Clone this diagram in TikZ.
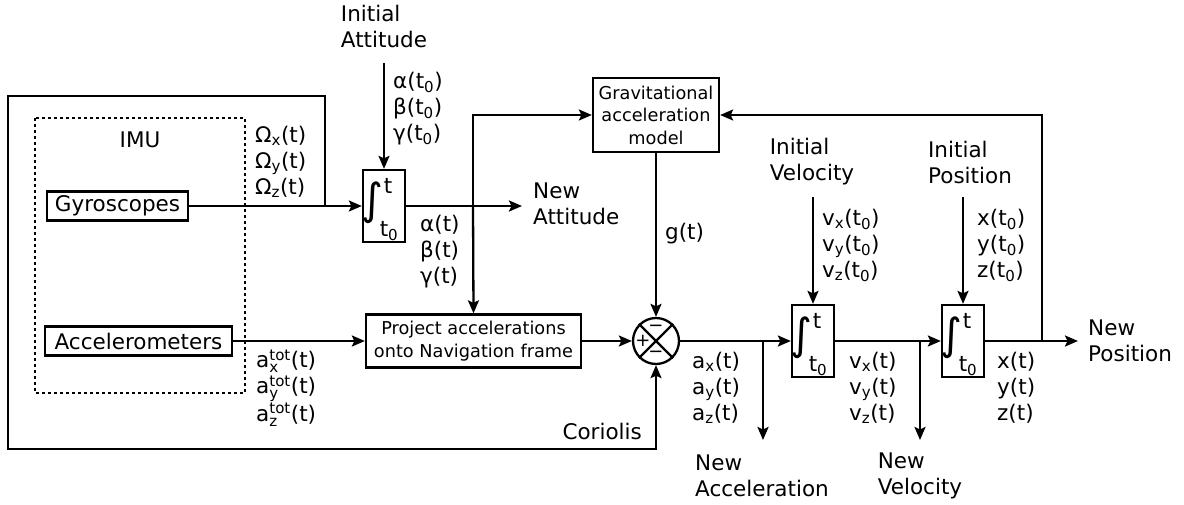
\documentclass[tikz,border=0pt]{standalone}
\usepackage{amsmath}
\usepackage{graphicx}
\usepackage{fontspec}
\setmainfont{DejaVu Sans}
\usetikzlibrary{arrows.meta}
\newcommand{\integ}[3]{%
  \node[blk, minimum width=42pt, minimum height=72pt] (#1) at (#2,#3) {};
  \node[intsym] (#1s) at ([xshift=-12pt,yshift=3pt]#1.center) {\scalebox{1.05}[1.08]{∫}};
  \node[inner sep=0pt] (#1u) at ([xshift=4pt,yshift=20pt]#1.center) {t};
  \node[inner sep=0pt] (#1l) at ([xshift=5pt,yshift=-25pt]#1.center) {t\textsubscript{0}};
}
\begin{document}
\begin{tikzpicture}[x=1pt,y=-1pt,
  every node/.style={font=\fontsize{21.5}{26}\selectfont},
  blk/.style={draw, line width=2.3pt, inner sep=2pt},
  small/.style={font=\fontsize{17.7}{22.5}\selectfont},
  intsym/.style={inner sep=0pt, font=\fontsize{40}{40}\selectfont},
  lab/.style={align=left, inner sep=0pt, anchor=west},
  arr/.style={line width=2.3pt, -{Stealth[length=13pt,width=11pt,inset=2.5pt]}},
  ln/.style={line width=2.3pt},
  sign/.style={inner sep=0pt, font=\fontsize{18}{18}\selectfont}]
\useasboundingbox (0,0) rectangle (1184,504);

% IMU
\draw[line width=1.8pt, dash pattern=on 3pt off 3pt] (35,118) rectangle (245,393);
\node (imu) at (140,140) {IMU};
\node[blk, minimum width=141pt, minimum height=29pt] (gyro) at (117.5,206) {Gyroscopes};
\node[blk, minimum width=187pt, minimum height=29pt] (acc) at (138.5,341) {Accelerometers};

% blocks
\integ{int1}{384}{206}
\integ{int2}{813}{341}
\integ{int3}{963}{341}
\node[blk, small, align=center, minimum width=126pt, minimum height=74pt] (grav) at (656,115) {Gravitational\\acceleration\\model};
\node[blk, small, align=center, minimum width=215pt, minimum height=53pt] (proj) at (473.5,341) {Project accelerations\\onto Navigation frame};
\node[draw, circle, line width=2.3pt, minimum size=46pt, inner sep=0pt] (sum) at (656,341) {};
\draw[ln] (sum.north east) -- (sum.south west);
\draw[ln] (sum.north west) -- (sum.south east);
\node[sign] (splus) at ([xshift=-13pt]sum.center) {+};
\node[sign] (smin1) at ([yshift=13pt]sum.center) {−};
\node[sign] (smin2) at ([yshift=-13pt]sum.center) {−};

% coordinates
\coordinate (jg) at (325,206);
\coordinate (attin) at (384,63);
\coordinate (attout) at (522,206);
\coordinate (ja) at (473,206);
\coordinate (j1) at (763,341);
\coordinate (newacc) at (763,440);
\coordinate (j2) at (920,341);
\coordinate (newvel) at (920,440);
\coordinate (j3) at (1042,341);
\coordinate (newpos) at (1078,341);
\coordinate (velin) at (813,197);
\coordinate (posin) at (963,197);

% connectors
\draw[arr] (gyro.east) -- (int1.west);
\draw[arr] (jg) |- (8,96) -- (8,449) -| (sum.south);
\draw[arr] (attin) -- (int1.north);
\draw[arr] (int1.east) -- (attout);
\draw[arr] (ja) -- (proj.north);
\draw[arr] (ja) |- (grav.west);
\draw[arr] (acc.east) -- (proj.west);
\draw[arr] (proj.east) -- (sum.west);
\draw[arr] (grav.south) -- (sum.north);
\draw[arr] (sum.east) -- (int2.west);
\draw[arr] (j1) -- (newacc);
\draw[arr] (int2.east) -- (int3.west);
\draw[arr] (j2) -- (newvel);
\draw[arr] (int3.east) -- (newpos);
\draw[arr] (j3) |- (grav.east);
\draw[arr] (velin) -- (int2.north);
\draw[arr] (posin) -- (int3.north);

% texts
\node[align=left, inner sep=0pt] (tatt) at (384,26) {Initial\\Attitude};
\node[align=left, inner sep=0pt] (tvel) at (812,162) {Initial\\Velocity};
\node[align=left, inner sep=0pt] (tpos) at (970,162) {Initial\\Position};
\node[lab] (tnatt) at (533,204) {New\\Attitude};
\node[lab] (tnpos) at (1088,341) {New\\Position};
\node[align=left, inner sep=0pt] (tnacc) at (762,476) {New\\Acceleration};
\node[align=left, inner sep=0pt] (tnvel) at (920,476) {New\\Velocity};
\node[inner sep=0pt, anchor=east] (tcor) at (642,431) {Coriolis};
\node[lab] (tg) at (665,234) {g(t)};
\node[lab] (tom) at (255,162) {Ω\textsubscript{x}(t)\\Ω\textsubscript{y}(t)\\Ω\textsubscript{z}(t)};
\node[lab] (tang0) at (393,109) {α(t\textsubscript{0})\\β(t\textsubscript{0})\\γ(t\textsubscript{0})};
\node[lab] (tang) at (420,252) {α(t)\\β(t)\\γ(t)};
\node[lab] (tatot) at (256,388) {$\text{a}^{\text{tot}}_{\text{x}}$(t)\\$\text{a}^{\text{tot}}_{\text{y}}$(t)\\$\text{a}^{\text{tot}}_{\text{z}}$(t)};
\node[lab] (tax) at (692,388) {a\textsubscript{x}(t)\\a\textsubscript{y}(t)\\a\textsubscript{z}(t)};
\node[lab] (tvx) at (849,388) {v\textsubscript{x}(t)\\v\textsubscript{y}(t)\\v\textsubscript{z}(t)};
\node[lab] (txt) at (997,388) {x(t)\\y(t)\\z(t)};
\node[lab] (tvx0) at (822,245) {v\textsubscript{x}(t\textsubscript{0})\\v\textsubscript{y}(t\textsubscript{0})\\v\textsubscript{z}(t\textsubscript{0})};
\node[lab] (tx0) at (977,245) {x(t\textsubscript{0})\\y(t\textsubscript{0})\\z(t\textsubscript{0})};
\end{tikzpicture}
\end{document}
